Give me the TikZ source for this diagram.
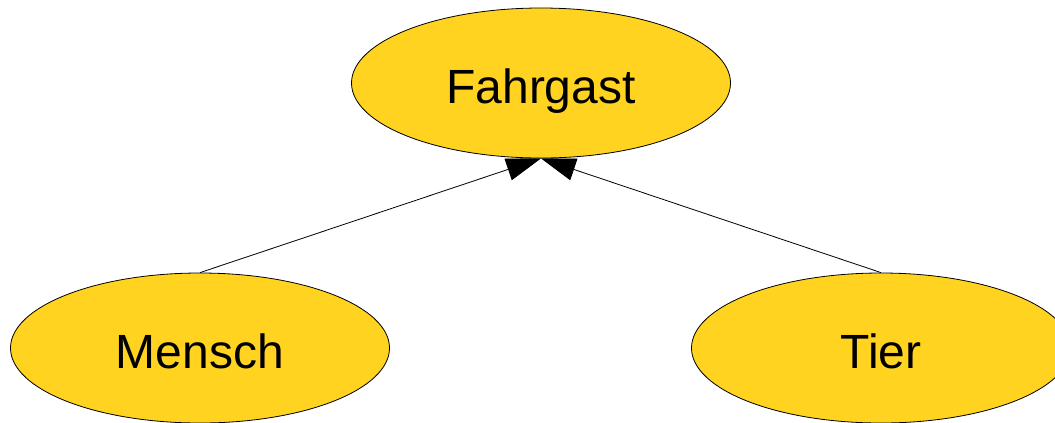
\documentclass[tikz,border=0pt]{standalone}
\usepackage{fontspec}
\setmainfont{Liberation Sans}
\usetikzlibrary{shapes.geometric}
\usetikzlibrary{arrows.meta}
\usetikzlibrary{backgrounds}
\definecolor{klassengelb}{HTML}{FFD320}

\begin{document}
\begin{tikzpicture}[x=0.75pt, y=-0.75pt]
	% ------- style -------
	\tikzset{%
		klasse/.style={%
			ellipse, draw=black, line width=0.6pt, fill=klassengelb,
			minimum width=284.25pt, minimum height=112.5pt, inner sep=0pt,
			font=\fontsize{36}{43}\selectfont, text height=30pt, text depth=0pt,
		},
		erbt/.style={%
			line width=0.6pt, -{Triangle[length=26pt, width=17pt]},
		},
	}
	\useasboundingbox (0,0) rectangle (1055,422);
	
	% ------- klassen -------
	\node[klasse] (Fahrgast) at (541,83) {Fahrgast};
	\node[klasse] (Mensch) at (200,348) {Mensch};
	\node[klasse] (Tier) at (881,348) {Tier};
	
	% ------- vererbung -------
	\begin{scope}[on background layer]
		\draw[erbt] (Mensch.north) -- (Fahrgast.south);
		\draw[erbt] (Tier.north) -- (Fahrgast.south);
	\end{scope}
\end{tikzpicture}
\end{document}
